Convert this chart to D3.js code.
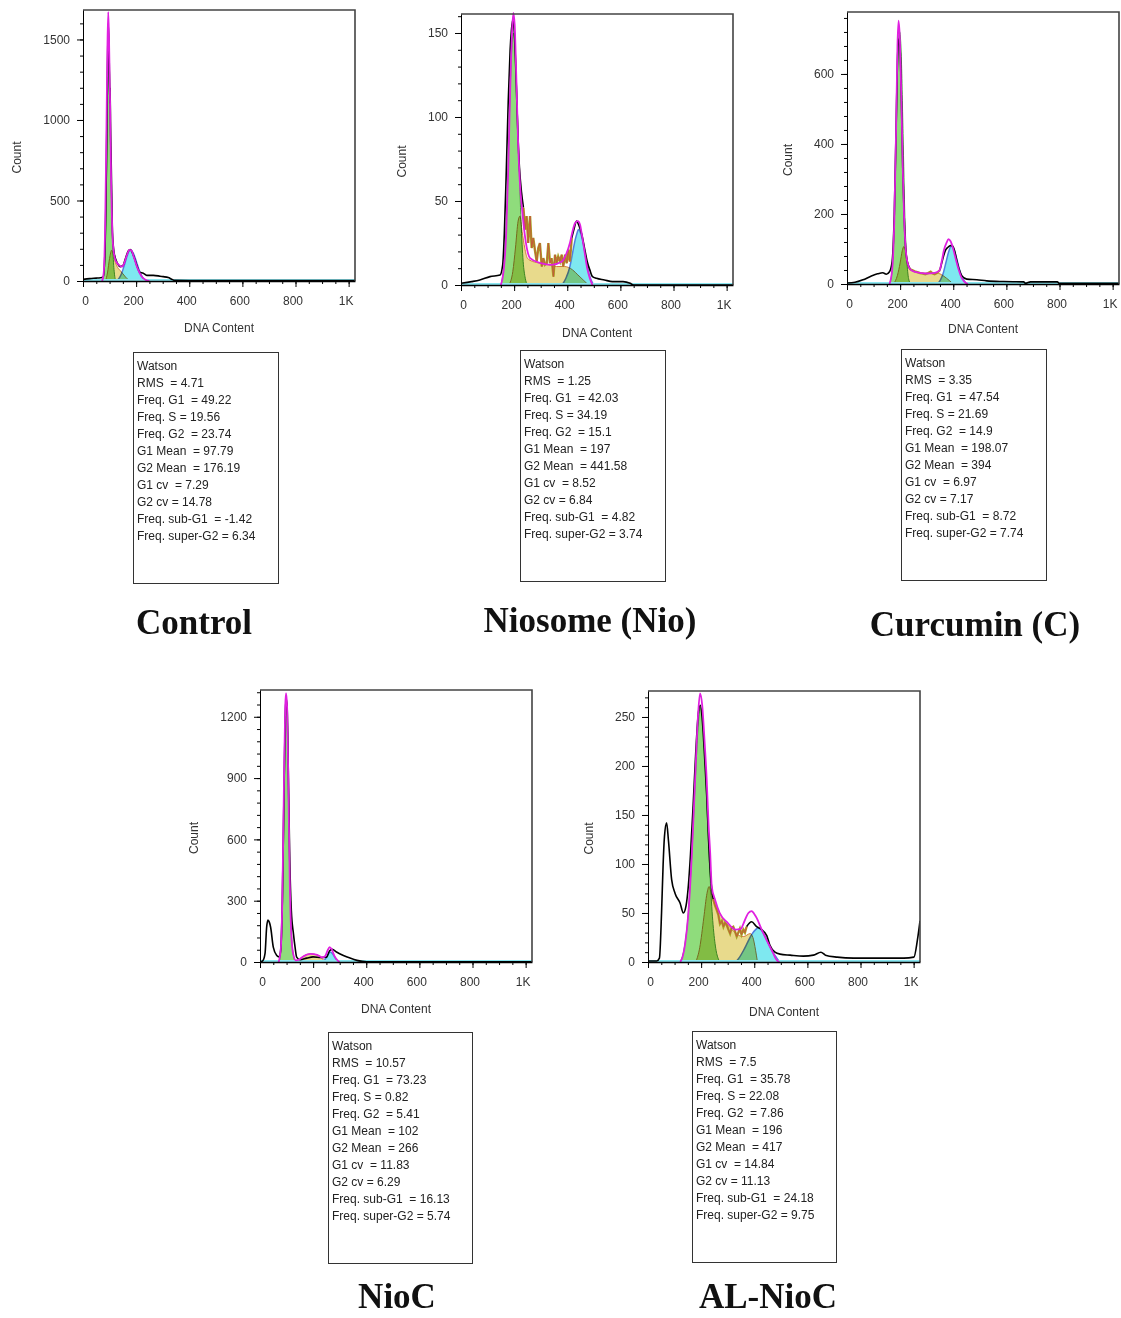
<!DOCTYPE html>
<html>
<head>
<meta charset="utf-8">
<script src="https://cdn.jsdelivr.net/npm/d3@7"></script>
<style>
  body { margin: 0; background: #fff; }
  svg { display: block; }
  .tick text { font-family: "Liberation Sans", Arial, sans-serif; font-size: 12px; fill: #333; }
  .fill { mix-blend-mode: multiply; }
</style>
</head>
<body>
<svg id="chart" width="1121" height="1318"></svg>
<script>
// x axis (DNA content) ticks, same for every panel
var xTicks = [0, 200, 400, 600, 800, 1000];
var xTickLabels = ["0", "200", "400", "600", "800", "1K"];

// ---- Control ----
var controlRaw = [[0,10],[25,15],[50,18],[65,20],[76,25],[82,150],[88,700],[92,1300],[95,1600],[98,1450],[101,1100],[102,1203],[104,900],[106,750],[109,450],[111,300],[117,177],[129,112],[141,89],[150,95],[160,140],[170,185],[178,195],[186,175],[196,130],[205,85],[213,55],[227,48],[240,35],[265,35],[290,30],[302,27],[321,21],[334,11],[345,4],[400,3],[1024,3]];
var controlFit = [[72,0],[78,50],[84,400],[88,900],[92,1450],[95,1670],[98,1500],[102,1100],[106,600],[110,320],[115,190],[122,130],[135,100],[146,89],[155,110],[165,160],[175,193],[182,190],[192,145],[205,80],[220,30],[235,8],[250,0]];
var controlG1 = [[72,0],[80,60],[85,300],[90,800],[94,1250],[97,1393],[100,1300],[104,950],[108,500],[113,180],[118,50],[124,0]];
var controlS = [[85,0],[92,50],[100,140],[108,192],[115,160],[122,115],[130,85],[140,65],[150,45],[160,25],[170,8],[180,0]];
var controlG2 = [[125,0],[135,15],[145,45],[155,95],[165,150],[175,190],[180,193],[190,170],[200,125],[210,75],[220,35],[230,10],[240,0]];
var controlYTicks = [0, 500, 1000, 1500];
var controlStats = ["Watson", "RMS  = 4.71", "Freq. G1  = 49.22", "Freq. S = 19.56", "Freq. G2  = 23.74", "G1 Mean  = 97.79", "G2 Mean  = 176.19", "G1 cv  = 7.29", "G2 cv = 14.78", "Freq. sub-G1  = -1.42", "Freq. super-G2 = 6.34"];

// ---- Niosome (Nio) ----
var nioRaw = [[0,1],[40,2],[71,3],[109,5],[147,6],[157,12],[163,30],[170,65],[178,110],[185,140],[190,152],[195,158],[200,152],[206,130],[212,100],[220,70],[228,55],[235,46],[241,33],[247,41],[253,25],[260,41],[266,22],[272,28],[279,20],[285,14],[291,22],[297,25],[304,11],[310,16],[316,12],[323,13],[329,25],[335,13],[341,16],[348,5],[354,18],[360,13],[366,17],[373,14],[379,18],[385,11],[392,18],[398,13],[404,21],[410,14],[417,28],[425,33],[435,38],[445,35],[455,30],[465,22],[475,14],[485,9],[495,5],[510,4],[540,3],[570,2],[610,2],[637,1],[650,0],[1024,0]];
var nioFit = [[150,0],[160,8],[170,30],[178,70],[185,115],[192,150],[197,162],[202,155],[208,125],[215,85],[222,60],[230,45],[240,30],[260,16],[300,13],[340,12],[380,14],[395,18],[410,25],[420,32],[430,37],[440,38],[448,36],[455,30],[465,20],[475,10],[485,4],[495,0]];
var nioG1 = [[150,0],[160,10],[170,35],[178,75],[185,115],[192,143],[197,150],[202,145],[210,115],[218,75],[226,38],[234,14],[242,4],[250,0]];
var nioS = [[180,0],[195,8],[205,22],[215,38],[222,41],[230,32],[240,22],[250,16],[270,14],[300,13],[330,12],[360,11],[390,11],[420,9],[440,6],[460,3],[480,0]];
var nioG2 = [[380,0],[395,4],[410,11],[420,19],[430,27],[437,31],[442,33],[450,31],[460,25],[470,16],[480,8],[490,3],[500,0]];
var nioYTicks = [0, 50, 100, 150];
var nioStats = ["Watson", "RMS  = 1.25", "Freq. G1  = 42.03", "Freq. S = 34.19", "Freq. G2  = 15.1", "G1 Mean  = 197", "G2 Mean  = 441.58", "G1 cv  = 8.52", "G2 cv = 6.84", "Freq. sub-G1  = 4.82", "Freq. super-G2 = 3.74"];

// ---- Curcumin (C) ----
var curRaw = [[0,3],[30,5],[60,12],[90,22],[115,29],[135,32],[148,28],[160,35],[170,65],[178,200],[185,450],[190,640],[195,700],[200,670],[205,520],[210,330],[215,200],[220,110],[228,60],[238,42],[245,40],[255,36],[265,34],[275,31],[285,30],[295,28],[305,31],[315,35],[322,30],[330,28],[340,32],[350,40],[360,70],[370,95],[380,105],[390,110],[398,108],[405,95],[413,68],[422,42],[432,24],[451,14],[489,12],[526,9],[589,7],[665,6],[672,2],[691,6],[792,6],[798,2],[1024,2]];
var curFit = [[160,0],[170,40],[178,180],[185,450],[190,680],[194,752],[199,700],[205,520],[210,330],[215,190],[220,110],[228,60],[238,42],[260,34],[300,30],[330,32],[348,38],[358,70],[365,97],[375,118],[382,128],[390,122],[400,100],[410,70],[420,42],[430,20],[440,8],[455,0]];
var curG1 = [[160,0],[170,40],[178,170],[185,420],[192,660],[198,721],[204,660],[211,430],[218,190],[225,70],[232,15],[240,0]];
var curS = [[175,0],[190,25],[200,60],[208,95],[214,107],[220,95],[228,65],[238,45],[260,35],[290,30],[320,31],[345,30],[365,22],[385,10],[400,0]];
var curG2 = [[340,0],[352,12],[362,30],[372,60],[382,90],[392,108],[402,100],[412,75],[422,45],[432,22],[442,8],[452,0]];
var curYTicks = [0, 200, 400, 600];
var curStats = ["Watson", "RMS  = 3.35", "Freq. G1  = 47.54", "Freq. S = 21.69", "Freq. G2  = 14.9", "G1 Mean  = 198.07", "G2 Mean  = 394", "G1 cv  = 6.97", "G2 cv = 7.17", "Freq. sub-G1  = 8.72", "Freq. super-G2 = 7.74"];

// ---- NioC ----
var niocRaw = [[0,0],[10,5],[19,42],[25,170],[30,205],[35,195],[40,170],[50,73],[63,32],[72,25],[78,60],[84,300],[90,800],[95,1200],[98,1290],[102,1250],[107,900],[112,500],[118,250],[126,138],[132,73],[138,24],[151,11],[176,19],[200,25],[230,22],[251,24],[262,55],[272,62],[288,49],[314,32],[339,19],[365,8],[402,1],[1024,1]];
var niocFit = [[70,0],[78,60],[84,300],[90,850],[95,1250],[98,1316],[102,1250],[107,850],[112,400],[118,130],[125,40],[135,8],[145,10],[160,25],[190,40],[215,35],[235,22],[245,28],[255,58],[262,73],[270,62],[280,30],[292,8],[300,0]];
var niocG1 = [[72,0],[80,80],[86,350],[92,900],[98,1280],[103,1200],[108,800],[114,350],[120,110],[127,25],[134,0]];
var niocS = [[140,0],[150,15],[165,30],[190,40],[215,35],[230,22],[240,8],[248,0]];
var niocG2 = [[235,0],[245,12],[255,35],[264,49],[272,42],[282,22],[292,6],[300,0]];
var niocYTicks = [0, 300, 600, 900, 1200];
var niocStats = ["Watson", "RMS  = 10.57", "Freq. G1  = 73.23", "Freq. S = 0.82", "Freq. G2  = 5.41", "G1 Mean  = 102", "G2 Mean  = 266", "G1 cv  = 11.83", "G2 cv = 6.29", "Freq. sub-G1  = 16.13", "Freq. super-G2 = 5.74"];

// ---- AL-NioC ----
var alRaw = [[0,1],[33,1],[43,4],[51,50],[57,100],[62,128],[70,142],[77,124],[89,84],[102,70],[121,60],[133,50],[143,57],[152,78],[160,110],[170,160],[180,215],[190,255],[197,262],[205,245],[213,210],[221,170],[228,125],[235,90],[242,70],[246,64],[252,58],[259,53],[265,48],[271,39],[278,42],[284,36],[290,40],[296,38],[303,33],[309,29],[315,35],[321,36],[328,31],[334,26],[340,30],[346,34],[352,28],[359,33],[365,30],[371,36],[390,41],[409,36],[428,33],[447,27],[459,17],[478,10],[497,8],[535,7],[585,6],[623,7],[651,10],[668,7],[712,5],[774,4],[837,4],[963,4],[1001,5],[1014,22],[1024,42]];
var alFit = [[121,0],[130,5],[140,19],[152,50],[165,110],[178,190],[188,250],[196,274],[204,262],[213,225],[221,186],[228,140],[234,112],[240,77],[253,63],[270,50],[300,40],[330,33],[350,34],[359,39],[370,46],[378,50],[390,52],[400,49],[409,45],[428,33],[447,22],[466,12],[485,2],[495,0]];
var alG1 = [[120,0],[135,12],[150,45],[165,110],[178,185],[190,245],[197,260],[205,250],[215,205],[225,140],[235,80],[245,38],[255,14],[265,3],[272,0]];
var alS = [[180,0],[195,15],[210,45],[222,70],[230,77],[238,70],[248,60],[260,55],[285,43],[310,35],[335,28],[360,26],[385,29],[395,25],[405,12],[412,0]];
var alG2 = [[330,0],[345,5],[360,12],[375,20],[390,28],[405,33],[415,35],[425,33],[440,27],[455,18],[470,10],[485,4],[495,0]];
var alYTicks = [0, 50, 100, 150, 200, 250];
var alStats = ["Watson", "RMS  = 7.5", "Freq. G1  = 35.78", "Freq. S = 22.08", "Freq. G2  = 7.86", "G1 Mean  = 196", "G2 Mean  = 417", "G1 cv  = 14.84", "G2 cv = 11.13", "Freq. sub-G1  = 24.18", "Freq. super-G2 = 9.75"];

var titles = ["Control", "Niosome (Nio)", "Curcumin (C)", "NioC", "AL-NioC"];

// layout of each panel (pixels)
var panels = [
  { raw: controlRaw, fit: controlFit, g1: controlG1, s: controlS, g2: controlG2, yTicks: controlYTicks, yMinor: 100, yMax: 1683, stats: controlStats,
    left: 83, top: 10, y0: 281, sJag: null, countX: 17, dnaY: 332, box: [133, 352, 145, 231], title: [194, 634] },
  { raw: nioRaw, fit: nioFit, g1: nioG1, s: nioS, g2: nioG2, yTicks: nioYTicks, yMinor: 10, yMax: 161.3, stats: nioStats,
    left: 461, top: 14, y0: 285, sJag: [235, 417], countX: 402, dnaY: 337, box: [520, 350, 145, 231], title: [590, 632] },
  { raw: curRaw, fit: curFit, g1: curG1, s: curS, g2: curG2, yTicks: curYTicks, yMinor: 40, yMax: 777, stats: curStats,
    left: 847, top: 12, y0: 284, sJag: [238, 350], countX: 788, dnaY: 333, box: [901, 349, 145, 231], title: [975, 636] },
  { raw: niocRaw, fit: niocFit, g1: niocG1, s: niocS, g2: niocG2, yTicks: niocYTicks, yMinor: 60, yMax: 1331, stats: niocStats,
    left: 260, top: 690, y0: 962, sJag: null, countX: 194, dnaY: 1013, box: [328, 1032, 144, 231], title: [397, 1308] },
  { raw: alRaw, fit: alFit, g1: alG1, s: alS, g2: alG2, yTicks: alYTicks, yMinor: 10, yMax: 276.5, stats: alStats,
    left: 648, top: 691, y0: 962, sJag: [246, 371], countX: 589, dnaY: 1016, box: [692, 1031, 144, 231], title: [768, 1308] }
];

var svg = d3.select("#chart");
var W = 272; // plot width

panels.forEach(function(p, i) {
  var g = svg.append("g");
  var x = d3.scaleLinear().domain([0, 1024]).range([p.left, p.left + W]);
  var y = d3.scaleLinear().domain([0, p.yMax]).range([p.y0, p.top]);

  var clipId = "clip" + i;
  g.append("clipPath").attr("id", clipId)
    .append("rect").attr("x", p.left).attr("y", p.top - 4).attr("width", W).attr("height", p.y0 - p.top + 4);

  var plot = g.append("g").attr("clip-path", "url(#" + clipId + ")");

  var area = d3.area()
    .x(function(d) { return x(d[0]); })
    .y0(y(0))
    .y1(function(d) { return y(d[1]); })
    .curve(d3.curveMonotoneX);
  var line = d3.line()
    .x(function(d) { return x(d[0]); })
    .y(function(d) { return y(d[1]); })
    .curve(d3.curveMonotoneX);

  // model components
  plot.append("path").datum(p.g1).attr("class", "fill").attr("d", area)
    .attr("fill", "#8fdc7c").attr("stroke", "#3f9a3a").attr("stroke-width", 1);
  plot.append("path").datum(p.s).attr("class", "fill").attr("d", area)
    .attr("fill", "#e8da8c").attr("stroke", "#d27a3c").attr("stroke-width", 1);
  plot.append("path").datum(p.g2).attr("class", "fill").attr("d", area)
    .attr("fill", "#7ee8f0").attr("stroke", "#4f7fe0").attr("stroke-width", 1.5);

  // cyan baseline under the histogram
  plot.append("line")
    .attr("x1", p.left).attr("x2", p.left + W)
    .attr("y1", y(0) - 1).attr("y2", y(0) - 1)
    .attr("stroke", "#8ae6f0").attr("stroke-width", 2);

  // raw histogram (black), S-phase part coloured
  var lo = p.sJag ? p.sJag[0] : Infinity, hi = p.sJag ? p.sJag[1] : -Infinity;
  plot.append("path").datum(p.raw)
    .attr("d", line.defined(function(d) { return d[0] <= lo || d[0] >= hi; }))
    .attr("fill", "none").attr("stroke", "#000").attr("stroke-width", 1.6);
  line.defined(function() { return true; });
  if (p.sJag) {
    var jag = p.raw.filter(function(d) { return d[0] >= lo && d[0] <= hi; });
    var jline = d3.line().x(function(d) { return x(d[0]); }).y(function(d) { return y(d[1]); });
    plot.append("path").datum(jag).attr("d", jline)
      .attr("fill", "none").attr("stroke", "#a9a322").attr("stroke-width", 2.4);
    plot.append("path").datum(jag).attr("d", jline)
      .attr("fill", "none").attr("stroke", "#c4583c").attr("stroke-width", 1);
  }

  // model sum (magenta)
  plot.append("path").datum(p.fit).attr("d", line)
    .attr("fill", "none").attr("stroke", "#e020e0").attr("stroke-width", 1.8);

  // frame: top and right
  g.append("path")
    .attr("d", "M" + p.left + "," + p.top + "H" + (p.left + W) + "V" + p.y0)
    .attr("fill", "none").attr("stroke", "#444").attr("stroke-width", 1.6);

  // y axis
  var yMinorVals = d3.range(0, p.yMax, p.yMinor);
  g.append("g").attr("transform", "translate(" + p.left + ",0)")
    .call(d3.axisLeft(y).tickValues(yMinorVals).tickSize(3).tickSizeOuter(0).tickFormat(""))
    .call(function(a) { a.select(".domain").remove(); });
  g.append("g").attr("transform", "translate(" + p.left + ",0)")
    .call(d3.axisLeft(y).tickValues(p.yTicks).tickSize(6).tickPadding(7).tickSizeOuter(0).tickFormat(d3.format("d")))
    .call(function(a) { a.select(".domain").attr("stroke", "#000"); });

  // x axis
  var xMinorVals = d3.range(0, 1025, 50);
  g.append("g").attr("transform", "translate(0," + p.y0 + ")")
    .call(d3.axisBottom(x).tickValues(xMinorVals).tickSize(3).tickSizeOuter(0).tickFormat(""))
    .call(function(a) { a.select(".domain").remove(); });
  g.append("g").attr("transform", "translate(0," + p.y0 + ")")
    .call(d3.axisBottom(x).tickValues(xTicks).tickSize(6).tickPadding(9).tickSizeOuter(0)
      .tickFormat(function(d, k) { return xTickLabels[k]; }))
    .call(function(a) {
      a.select(".domain").attr("stroke", "#000").attr("stroke-width", 1.4);
      a.selectAll(".tick text").attr("dx", function(d) { return d === 0 ? 2 : -3; });
    });

  // axis titles
  g.append("text")
    .attr("transform", "translate(" + (p.countX + 4) + "," + ((p.top + p.y0) / 2 + 12) + ") rotate(-90)")
    .attr("text-anchor", "middle")
    .style("font-family", "Liberation Sans, Arial, sans-serif").style("font-size", "12px").attr("fill", "#333")
    .text("Count");
  g.append("text")
    .attr("x", p.left + W / 2).attr("y", p.dnaY)
    .attr("text-anchor", "middle")
    .style("font-family", "Liberation Sans, Arial, sans-serif").style("font-size", "12px").attr("fill", "#333")
    .text("DNA Content");

  // Watson stats box
  var b = p.box;
  g.append("rect").attr("x", b[0] + 0.5).attr("y", b[1] + 0.5).attr("width", b[2]).attr("height", b[3])
    .attr("fill", "#fff").attr("stroke", "#333").attr("stroke-width", 1);
  g.selectAll("text.stat").data(p.stats).enter().append("text")
    .attr("class", "stat")
    .attr("x", b[0] + 4)
    .attr("y", function(d, k) { return b[1] + 17.5 + k * 17; })
    .style("font-family", "Liberation Sans, Arial, sans-serif").style("font-size", "12px")
    .style("white-space", "pre").attr("fill", "#222")
    .text(function(d) { return d; });

  // panel title
  g.append("text")
    .attr("x", p.title[0]).attr("y", p.title[1])
    .attr("text-anchor", "middle")
    .style("font-family", "Liberation Serif, Times New Roman, serif").style("font-size", "35px").style("font-weight", "bold")
    .attr("fill", "#111")
    .text(titles[i]);
});
</script>
</body>
</html>
